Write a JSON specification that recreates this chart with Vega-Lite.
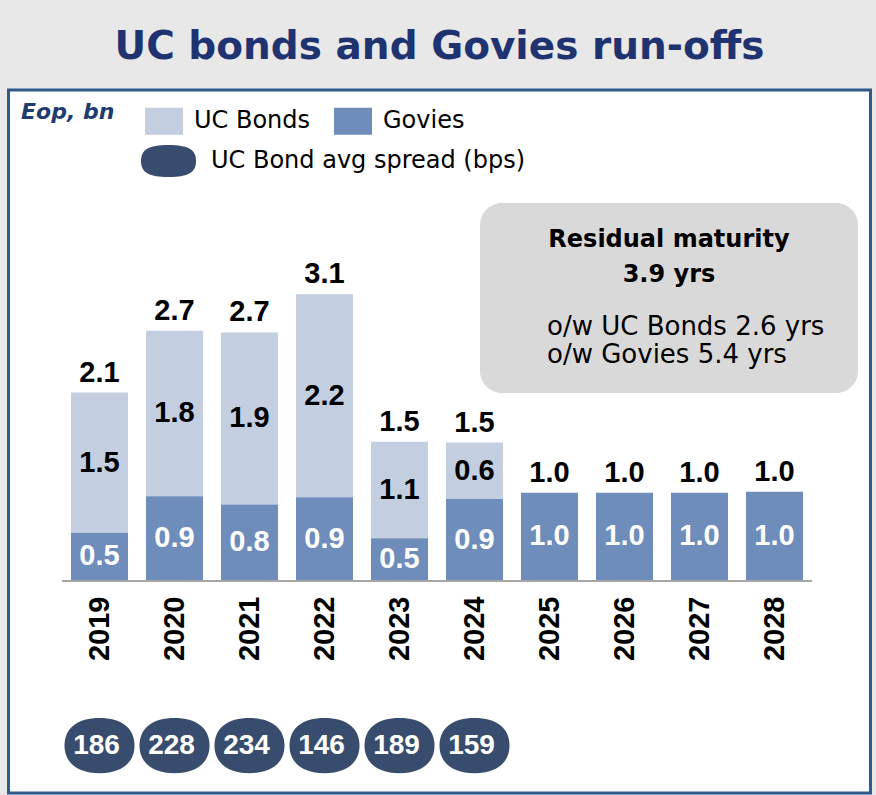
{
  "$schema": "https://vega.github.io/schema/vega-lite/v6.json",
  "width": 862,
  "height": 703,
  "autosize": {"type": "none"},
  "padding": {"left": 8.5, "top": 90, "right": 5.5, "bottom": 2},
  "background": "#E8E8E8",
  "title": {
    "text": "UC bonds and Govies run-offs",
    "font": "DejaVu Sans",
    "fontSize": 39,
    "fontWeight": "bold",
    "color": "#1F3370",
    "anchor": "middle",
    "frame": "group",
    "baseline": "alphabetic",
    "offset": 30,
    "dy": 38
  },
  "datasets": {
    "runoff": [
      {"year": "2019", "UC Bonds": 1.54, "Govies": 0.52},
      {"year": "2020", "UC Bonds": 1.82, "Govies": 0.92},
      {"year": "2021", "UC Bonds": 1.89, "Govies": 0.83},
      {"year": "2022", "UC Bonds": 2.23, "Govies": 0.91},
      {"year": "2023", "UC Bonds": 1.06, "Govies": 0.46},
      {"year": "2024", "UC Bonds": 0.62, "Govies": 0.89},
      {"year": "2025", "UC Bonds": 0, "Govies": 0.96},
      {"year": "2026", "UC Bonds": 0, "Govies": 0.96},
      {"year": "2027", "UC Bonds": 0, "Govies": 0.96},
      {"year": "2028", "UC Bonds": 0, "Govies": 0.97}
    ],
    "spreads": [
      {"year": "2019", "spread": 186},
      {"year": "2020", "spread": 228},
      {"year": "2021", "spread": 234},
      {"year": "2022", "spread": 146},
      {"year": "2023", "spread": 189},
      {"year": "2024", "spread": 159}
    ]
  },
  "layer": [
    {
      "data": {"name": "runoff"},
      "layer": [
        {
          "transform": [{"fold": ["UC Bonds", "Govies"], "as": ["series", "value"]}],
          "mark": {"type": "bar"},
          "encoding": {
            "x": {
              "field": "year",
              "type": "nominal",
              "scale": {"paddingInner": 0.24, "paddingOuter": 0.8667, "align": 0.4808},
              "axis": {
                "orient": "bottom",
                "offset": -213,
                "domain": false,
                "ticks": false,
                "grid": false,
                "title": null,
                "labelAngle": -90,
                "labelAlign": "right",
                "labelBaseline": "middle",
                "labelPadding": 16,
                "labelFont": "Liberation Sans",
                "labelFontSize": 29,
                "labelFontWeight": "bold",
                "labelColor": "black"
              }
            },
            "y": {
              "field": "value",
              "type": "quantitative",
              "stack": "zero",
              "scale": {"domain": [-2.3407, 5.3846], "nice": false, "zero": false},
              "axis": null
            },
            "color": {
              "field": "series",
              "type": "nominal",
              "scale": {"domain": ["UC Bonds", "Govies"], "range": ["#C3CEE1", "#6E8DBA"]},
              "legend": {
                "orient": "none",
                "legendX": 12.5,
                "legendY": 12,
                "direction": "horizontal",
                "title": "Eop, bn",
                "titleOrient": "left",
                "titleFont": "DejaVu Sans",
                "titleFontSize": 22,
                "titleFontStyle": "italic",
                "titleFontWeight": "bold",
                "titleColor": "#1F3C70",
                "titlePadding": 30,
                "titleBaseline": "top",
                "titleAnchor": "start",
                "labelFont": "DejaVu Sans",
                "labelFontSize": 24,
                "labelColor": "black",
                "labelLimit": 400,
                "labelOffset": 11,
                "columnPadding": 23,
                "symbolType": "M-1,-0.71L1,-0.71L1,0.71L-1,0.71Z",
                "symbolSize": 1444,
                "symbolStrokeWidth": 0,
                "symbolOpacity": 1,
                "padding": 0
              }
            },
            "order": {"field": "series", "sort": "ascending"}
          }
        },
        {
          "mark": {"type": "bar", "width": {"band": 1.3158}, "color": "#A6A6A6"},
          "encoding": {
            "x": {"field": "year", "type": "nominal"},
            "y": {"datum": 0, "type": "quantitative", "axis": null},
            "y2": {"datum": -0.022}
          }
        },
        {
          "transform": [
            {"fold": ["UC Bonds", "Govies"], "as": ["series", "value"]},
            {"filter": "datum.value > 0"}
          ],
          "mark": {"type": "text", "font": "Liberation Sans", "fontSize": 29, "fontWeight": "bold", "baseline": "middle", "align": "center"},
          "encoding": {
            "x": {"field": "year", "type": "nominal"},
            "y": {"field": "value", "type": "quantitative", "stack": "zero", "bandPosition": 0.5, "axis": null},
            "detail": {"field": "series"},
            "order": {"field": "series", "sort": "ascending"},
            "text": {"field": "value", "type": "quantitative", "format": ".1f"},
            "color": {"condition": {"test": "datum.series === 'Govies'", "value": "white"}, "value": "black"}
          }
        },
        {
          "transform": [{"fold": ["UC Bonds", "Govies"], "as": ["series", "value"]}],
          "mark": {"type": "text", "font": "Liberation Sans", "fontSize": 29, "fontWeight": "bold", "baseline": "alphabetic", "align": "center", "dy": -11, "color": "black"},
          "encoding": {
            "x": {"field": "year", "type": "nominal"},
            "y": {"aggregate": "sum", "field": "value", "type": "quantitative", "axis": null},
            "text": {"aggregate": "sum", "field": "value", "type": "quantitative", "format": ".1f"}
          }
        },
        {
          "data": {"name": "spreads"},
          "mark": {
            "type": "point",
            "filled": true,
            "opacity": 1,
            "size": 4900,
            "strokeWidth": 0,
            "dx": -3,
            "shape": "M-1,0C-1,-0.5,-0.62,-0.786,0,-0.786C0.62,-0.786,1,-0.5,1,0C1,0.5,0.62,0.786,0,0.786C-0.62,0.786,-1,0.5,-1,0Z"
          },
          "encoding": {
            "x": {"field": "year", "type": "nominal"},
            "y": {"datum": -1.82, "type": "quantitative", "axis": null},
            "fill": {
              "datum": "UC Bond avg spread (bps)",
              "type": "nominal",
              "scale": {"range": ["#384D6E"]},
              "legend": {
                "orient": "none",
                "legendX": 132.5,
                "legendY": 43.5,
                "title": null,
                "labelFont": "DejaVu Sans",
                "labelFontSize": 24,
                "labelColor": "black",
                "labelLimit": 500,
                "labelOffset": 15,
                "symbolType": "M-1,0C-1,-0.42,-0.72,-0.582,0,-0.582C0.72,-0.582,1,-0.42,1,0C1,0.42,0.72,0.582,0,0.582C-0.72,0.582,-1,0.42,-1,0Z",
                "symbolSize": 3025,
                "symbolStrokeWidth": 0,
                "symbolOpacity": 1,
                "padding": 0
              }
            }
          }
        },
        {
          "data": {"name": "spreads"},
          "mark": {"type": "text", "font": "Liberation Sans", "fontSize": 28, "fontWeight": "bold", "color": "white", "baseline": "middle", "align": "center", "dx": -3},
          "encoding": {
            "x": {"field": "year", "type": "nominal"},
            "y": {"datum": -1.82, "type": "quantitative", "axis": null},
            "text": {"field": "spread", "type": "quantitative"}
          }
        }
      ]
    },
    {
      "data": {"values": [{}]},
      "layer": [
        {
          "mark": {"type": "rect", "cornerRadius": 22, "color": "#D9D9D9"},
          "encoding": {
            "x": {"datum": 0.547, "type": "quantitative", "scale": {"domain": [0, 1], "nice": false, "zero": false}, "axis": null},
            "x2": {"datum": 0.9855},
            "y": {"datum": 4.143, "type": "quantitative", "axis": null},
            "y2": {"datum": 2.055}
          }
        },
        {
          "mark": {"type": "text", "text": ["Residual maturity", "3.9 yrs"], "lineHeight": 35, "align": "center", "baseline": "middle", "font": "DejaVu Sans", "fontSize": 24, "fontWeight": "bold", "color": "black"},
          "encoding": {
            "x": {"datum": 0.7662, "type": "quantitative"},
            "y": {"datum": 3.736, "type": "quantitative", "axis": null}
          }
        },
        {
          "mark": {"type": "text", "text": ["o/w UC Bonds 2.6 yrs", "o/w Govies 5.4 yrs"], "lineHeight": 28, "align": "left", "baseline": "middle", "font": "DejaVu Sans", "fontSize": 26, "color": "black"},
          "encoding": {
            "x": {"datum": 0.6247, "type": "quantitative"},
            "y": {"datum": 2.78, "type": "quantitative", "axis": null}
          }
        }
      ]
    }
  ],
  "resolve": {"scale": {"x": "independent"}},
  "config": {
    "view": {"stroke": "#2E5A8C", "strokeWidth": 3, "fill": "white"},
    "font": "Liberation Sans"
  }
}
